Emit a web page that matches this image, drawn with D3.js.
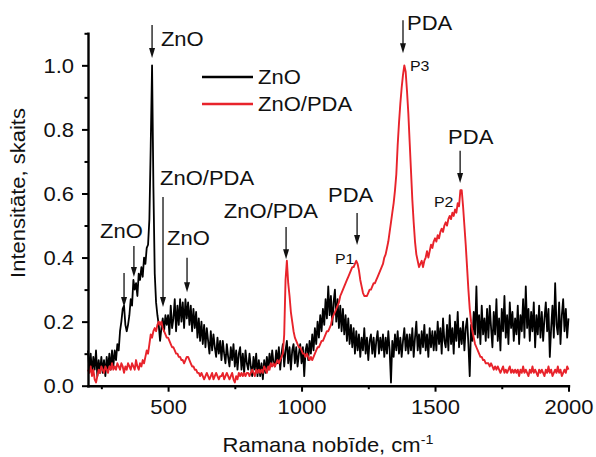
<!DOCTYPE html>
<html><head><meta charset="utf-8">
<script src="https://cdn.jsdelivr.net/npm/d3@7"></script>
<style>
body{margin:0;background:#fff}
svg{display:block}
text{font-family:Arial,"Liberation Sans",sans-serif;fill:#111}
</style>
</head><body>
<svg id="chart" width="596" height="457"></svg>
<script>
// ---- data ----
const ramanStart = 200, ramanStep = 5;   // sampling grid of the spectra, cm-1
const seriesNames = ["ZnO", "ZnO/PDA"];
const znoValues = [
 .11,.05,.10,.04,.09,.05,.11,.03,.08,.04,.09,.04,.08,.03,.09,.05,.10,.05,.11,.06,
 .11,.08,.13,.11,.17,.20,.24,.25,.19,.17,.19,.22,.27,.25,.33,.30,.32,.28,.35,.33,
 .37,.34,.40,.38,.43,.44,.52,.75,1.0,.62,.35,.26,.22,.19,.14,.18,.21,.17,.22,.19,
 .22,.16,.25,.18,.21,.27,.17,.25,.19,.27,.20,.26,.18,.27,.21,.26,.19,.25,.17,.24,
 .18,.23,.15,.21,.14,.20,.13,.19,.12,.18,.14,.10,.17,.11,.16,.12,.09,.15,.10,.14,
 .08,.14,.10,.07,.13,.09,.06,.12,.08,.13,.06,.11,.05,.10,.12,.05,.10,.04,.11,.07,
 .05,.10,.06,.03,.09,.05,.10,.03,.08,.03,.07,.02,.08,.04,.09,.05,.10,.06,.11,.07,
 .06,.11,.07,.12,.05,.10,.13,.06,.11,.14,.07,.12,.05,.11,.13,.07,.12,.06,.10,.13,
 .07,.12,.03,.11,.13,.08,.14,.10,.16,.11,.18,.13,.20,.15,.22,.17,.24,.19,.27,.21,
 .31,.22,.28,.19,.26,.30,.20,.27,.18,.25,.17,.24,.16,.22,.14,.21,.13,.19,.12,.18,
 .10,.17,.11,.16,.09,.15,.11,.18,.10,.15,.08,.14,.16,.10,.15,.09,.14,.17,.10,.15,
 .11,.16,.09,.15,.10,.17,.11,.01,.14,.09,.16,.11,.17,.10,.15,.09,.14,.18,.11,.16,
 .10,.16,.11,.18,.09,.15,.20,.11,.16,.10,.17,.12,.19,.11,.16,.09,.18,.12,.17,.11,
 .17,.11,.20,.13,.18,.10,.21,.14,.12,.19,.11,.22,.13,.18,.10,.20,.14,.23,.12,.18,
 .13,.20,.11,.18,.21,.13,.03,.19,.14,.23,.16,.31,.15,.22,.13,.25,.16,.21,.14,.24,
 .15,.25,.18,.12,.23,.16,.27,.14,.21,.11,.24,.17,.28,.15,.22,.13,.26,.18,.23,.14,
 .21,.16,.25,.13,.22,.17,.27,.15,.31,.18,.24,.14,.23,.17,.26,.12,.22,.16,.25,.15,
 .23,.14,.21,.26,.17,.24,.09,.18,.25,.15,.32,.19,.16,.26,.13,.22,.27,.17,.24,.15,.21
];
const znoPdaValues = [
 .05,.04,.06,.03,.05,.02,.01,.03,.05,.04,.06,.05,.04,.06,.05,.04,.06,.05,.07,.05,
 .06,.05,.07,.06,.05,.07,.06,.04,.06,.05,.07,.06,.05,.07,.06,.05,.08,.06,.05,.07,
 .06,.08,.07,.09,.11,.10,.13,.16,.15,.17,.18,.17,.19,.20,.19,.20,.18,.17,.16,.15,
 .15,.14,.13,.12,.12,.11,.10,.10,.09,.09,.08,.08,.07,.08,.09,.09,.08,.07,.06,.06,
 .05,.05,.04,.04,.03,.04,.03,.02,.03,.04,.03,.02,.03,.04,.02,.03,.04,.03,.02,.03,
 .03,.04,.02,.03,.04,.03,.02,.03,.04,.02,.01,.03,.02,.04,.03,.04,.03,.04,.03,.04,
 .04,.03,.04,.05,.04,.03,.05,.04,.05,.04,.05,.04,.06,.05,.04,.06,.05,.07,.06,.07,
 .06,.07,.08,.07,.08,.09,.10,.16,.33,.39,.32,.28,.23,.20,.17,.15,.14,.13,.12,.12,
 .11,.10,.10,.09,.10,.09,.08,.09,.08,.09,.10,.11,.12,.12,.13,.14,.14,.15,.16,.17,
 .17,.18,.19,.21,.22,.23,.24,.25,.26,.28,.29,.30,.31,.32,.33,.34,.35,.36,.37,.37,
 .38,.39,.38,.36,.33,.31,.29,.28,.28,.28,.29,.30,.30,.31,.32,.32,.33,.34,.35,.36,
 .37,.38,.40,.41,.43,.45,.48,.51,.54,.57,.61,.66,.75,.82,.88,.93,.97,1.0,.98,.92,
 .85,.76,.67,.58,.51,.45,.41,.39,.37,.38,.39,.37,.39,.40,.42,.40,.42,.44,.43,.45,
 .46,.45,.47,.46,.48,.49,.48,.50,.51,.50,.52,.53,.52,.54,.53,.55,.54,.57,.56,.61,
 .61,.56,.50,.44,.37,.30,.24,.20,.17,.15,.13,.12,.11,.10,.09,.09,.08,.08,.07,.07,
 .07,.06,.07,.06,.05,.06,.05,.06,.05,.04,.05,.06,.04,.05,.04,.05,.06,.04,.05,.04,
 .05,.04,.05,.03,.05,.04,.06,.04,.05,.04,.03,.05,.04,.06,.04,.05,.04,.03,.05,.04,
 .05,.04,.03,.05,.04,.06,.04,.05,.03,.04,.05,.04,.06,.04,.05,.03,.04,.05,.04,.06,.05
];
const xTickValues = [500, 1000, 1500, 2000];
const xMinorTicks = [250, 750, 1250, 1750];
const yTickValues = [0, 0.2, 0.4, 0.6, 0.8, 1.0];
const yMinorTicks = [0.1, 0.3, 0.5, 0.7, 0.9, 1.1];
const xTitle = "Ramana nobīde, cm";
const xTitleSup = "-1";
const yTitle = "Intensitāte, skaits";
// annotation arrows: wavenumber, start intensity, tip intensity
const arrowAt   = [440, 481, 335, 372, 571, 942, 1208, 1380, 1594];
const arrowFrom = [1.126, 0.589, 0.352, 0.436, 0.399, 0.495, 0.539, 1.141, 0.733];
const arrowTo   = [1.023, 0.246, 0.246, 0.339, 0.292, 0.395, 0.439, 1.038, 0.633];
// annotation labels: text, wavenumber (left edge), intensity (baseline)
const noteText = ["ZnO", "ZnO/PDA", "ZnO", "ZnO", "ZnO/PDA", "PDA", "PDA", "PDA"];
const noteAt   = [473, 470, 245, 496, 709, 1099, 1395, 1549];
const noteVal  = [1.060, 0.626, 0.461, 0.439, 0.523, 0.573, 1.110, 0.755];
const peakTag    = ["P1", "P2", "P3"];
const peakTagAt  = [1125, 1496, 1406];
const peakTagVal = [0.380, 0.558, 0.982];

// ---- drawing ----
const svg = d3.select("#chart");
const x = d3.scaleLinear().domain([200, 2000]).range([88, 568.5]);
const y = d3.scaleLinear().domain([0, 1.1]).range([385.7, 33.3]);
const SX = 1.1;     // horizontal stretch of the typeface in the original
const FS = 20;

function stretchText(g, str, px, py, size, anchor) {
  return g.append("text")
    .attr("transform", `translate(${px},${py}) scale(${SX},1)`)
    .attr("text-anchor", anchor || "start")
    .style("font-size", size + "px")
    .text(str);
}

// spectra
const line = d3.line()
  .x((d, i) => x(ramanStart + i * ramanStep))
  .y(d => y(d));
const colors = ["#000000", "#e8232b"];
const widths = [1.8, 1.9];
[znoValues, znoPdaValues].forEach((vals, k) => {
  svg.append("path")
    .datum(vals)
    .attr("d", line)
    .attr("fill", "none")
    .attr("stroke", colors[k])
    .attr("stroke-width", widths[k])
    .attr("stroke-linejoin", "round");
});

// axes
function styleAxis(g) {
  g.select(".domain").attr("stroke", "#000").attr("stroke-width", 2.4).attr("stroke-linecap", "square");
  g.selectAll(".tick line").attr("stroke", "#000").attr("stroke-width", 2);
  g.selectAll(".tick text").style("font-size", FS + "px").attr("fill", "#111")
    .attr("font-family", "Arial, 'Liberation Sans', sans-serif");
}
const gx = svg.append("g").attr("transform", `translate(0,${y(0)})`)
  .call(d3.axisBottom(x).tickValues(xTickValues).tickFormat(d3.format("d"))
        .tickSize(6).tickSizeOuter(0).tickPadding(8));
styleAxis(gx);
gx.selectAll(".tick text").attr("transform", `scale(${SX},1)`);
const gxm = svg.append("g").attr("transform", `translate(0,${y(0)})`)
  .call(d3.axisBottom(x).tickValues(xMinorTicks).tickFormat("").tickSize(3.5).tickSizeOuter(0));
gxm.select(".domain").remove();
gxm.selectAll(".tick line").attr("stroke", "#000").attr("stroke-width", 2);

const gy = svg.append("g").attr("transform", `translate(${x(200)},0)`)
  .call(d3.axisLeft(y).tickValues(yTickValues).tickFormat(d3.format(".1f"))
        .tickSize(6).tickSizeOuter(0).tickPadding(6.7));
styleAxis(gy);
gy.selectAll(".tick text").attr("transform", `scale(${SX},1)`).attr("dy", "0.34em");
const gym = svg.append("g").attr("transform", `translate(${x(200)},0)`)
  .call(d3.axisLeft(y).tickValues(yMinorTicks).tickFormat("").tickSize(3.5).tickSizeOuter(0));
gym.select(".domain").remove();
gym.selectAll(".tick line").attr("stroke", "#000").attr("stroke-width", 2);

// axis titles
const xt = stretchText(svg, xTitle, 328, 452, FS, "middle");
xt.append("tspan").attr("dy", -8).style("font-size", "13px").text(xTitleSup);
svg.append("text")
  .attr("transform", `translate(25,193) rotate(-90) scale(${SX},1)`)
  .attr("text-anchor", "middle")
  .style("font-size", FS + "px")
  .text(yTitle);

// legend
const legY = [77, 104];
seriesNames.forEach((name, k) => {
  svg.append("line").attr("x1", 202).attr("x2", 253).attr("y1", legY[k]).attr("y2", legY[k])
    .attr("stroke", colors[k]).attr("stroke-width", 2.4);
  stretchText(svg, name, 258, legY[k] + 7, FS, "start");
});

// arrows
const ann = svg.append("g");
arrowAt.forEach((v, i) => {
  const px = x(v), y1 = y(arrowFrom[i]), y2 = y(arrowTo[i]);
  ann.append("line").attr("x1", px).attr("x2", px).attr("y1", y1).attr("y2", y2 - 8)
    .attr("stroke", "#111").attr("stroke-width", 1.3);
  ann.append("path")
    .attr("d", `M${px - 3},${y2 - 10}L${px + 3},${y2 - 10}L${px},${y2}Z`)
    .attr("fill", "#111");
});
noteText.forEach((t, i) => stretchText(ann, t, x(noteAt[i]), y(noteVal[i]), FS, "start"));
peakTag.forEach((t, i) => stretchText(ann, t, x(peakTagAt[i]), y(peakTagVal[i]), 14.5, "start"));
</script>
</body></html>
